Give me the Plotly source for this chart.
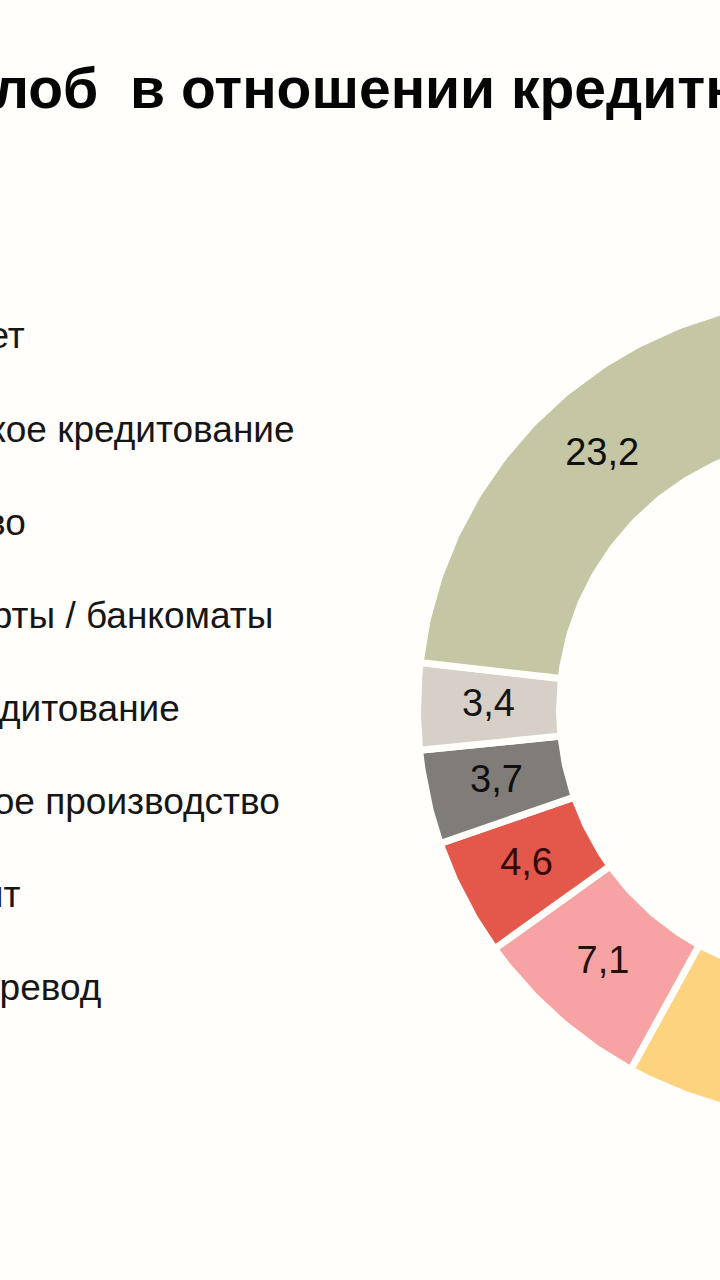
import numpy as np
import plotly.graph_objects as go

# Complaint categories (legend order = clockwise slice order from 12 o'clock)
categories = [
    "Банковский счет",
    "Потребительское кредитование",
    "Мошенничество",
    "Платежные карты / банкоматы",
    "Ипотечное кредитование",
    "Исполнительное производство",
    "Депозит",
    "Денежный перевод",
]
shares = [25.4, 20.1, 12.5, 7.1, 4.6, 3.7, 3.4, 23.2]

title_left = "Структура жалоб"
title_right = "в отношении кредитных организаций"

# ---- styling / layout -------------------------------------------------------
W, H = 720, 1280
BG = "#fffefb"
slice_colors = ["#a9b7c9", "#8fa8a0", "#fdd37f", "#f7a3a4",
                "#e4584b", "#807d79", "#d6d0c9", "#c5c6a3"]
label_colors = ["#141414", "#141414", "#141414", "#26100f",
                "#360808", "#0f0f0f", "#161616", "#0f0f0f"]
CX, CY = 829, 709          # donut centre (canvas px)
R_OUT, R_IN = 411.5, 269.5  # radii incl. half of the separating stroke
GAP = 7
FONT = "Liberation Sans, Arial, sans-serif"

# legend text: right edge of each line, first line centre and line step
legend_right = [27, 297, 28, 275, 182, 282, 22, 103]
legend_y0, legend_step = 336, 93.1


def ring_sector(a0, a1, n=120):
    """Closed outline of a donut sector between angles a0..a1 (deg, clockwise from top)."""
    t_out = np.radians(np.linspace(a0, a1, n))
    t_in = t_out[::-1]
    xs = np.concatenate([CX + R_OUT * np.sin(t_out), CX + R_IN * np.sin(t_in)])
    ys = np.concatenate([CY - R_OUT * np.cos(t_out), CY - R_IN * np.cos(t_in)])
    return np.append(xs, xs[0]), np.append(ys, ys[0])


vals = np.array(shares, dtype=float)
ends = np.cumsum(vals) / vals.sum() * 360.0
starts = ends - vals / vals.sum() * 360.0

fig = go.Figure()

for i, (name, a0, a1) in enumerate(zip(categories, starts, ends)):
    xs, ys = ring_sector(a0, a1)
    fig.add_trace(go.Scatter(
        x=xs, y=ys, mode="lines", fill="toself",
        fillcolor=slice_colors[i],
        line=dict(color=BG, width=GAP),
        name=name, hoverinfo="name", showlegend=False,
    ))

# value labels at the middle of each sector
mid = np.radians((starts + ends) / 2)
r_mid = (R_OUT + R_IN) / 2
fig.add_trace(go.Scatter(
    x=CX + r_mid * np.sin(mid),
    y=CY - r_mid * np.cos(mid),
    mode="text",
    text=[f"{v:.1f}".replace(".", ",") for v in shares],
    textposition="middle center",
    textfont=dict(family=FONT, size=38, color=label_colors),
    hoverinfo="skip", showlegend=False,
))

annotations = []
# legend entries
for i, name in enumerate(categories):
    annotations.append(dict(
        x=legend_right[i] / W, y=1 - (legend_y0 + i * legend_step) / H,
        xref="paper", yref="paper", xanchor="right", yanchor="middle",
        text=name, showarrow=False,
        font=dict(family=FONT, size=37, color="#161616"),
    ))

# title
annotations.append(dict(
    x=100 / W, y=1 - 88 / H, xref="paper", yref="paper",
    xanchor="right", yanchor="middle", showarrow=False,
    text=f"<b>{title_left}</b>",
    font=dict(family=FONT, size=57, color="#050505"),
))
annotations.append(dict(
    x=128 / W, y=1 - 88 / H, xref="paper", yref="paper",
    xanchor="left", yanchor="middle", showarrow=False,
    text=f"<b>{title_right}</b>",
    font=dict(family=FONT, size=57, color="#050505"),
))

fig.update_layout(
    width=W, height=H,
    margin=dict(l=0, r=0, t=0, b=0),
    paper_bgcolor=BG, plot_bgcolor=BG,
    xaxis=dict(range=[0, W], visible=False, fixedrange=True),
    yaxis=dict(range=[H, 0], visible=False, fixedrange=True),
    annotations=annotations,
    showlegend=False,
)

fig.write_html("out.html")
